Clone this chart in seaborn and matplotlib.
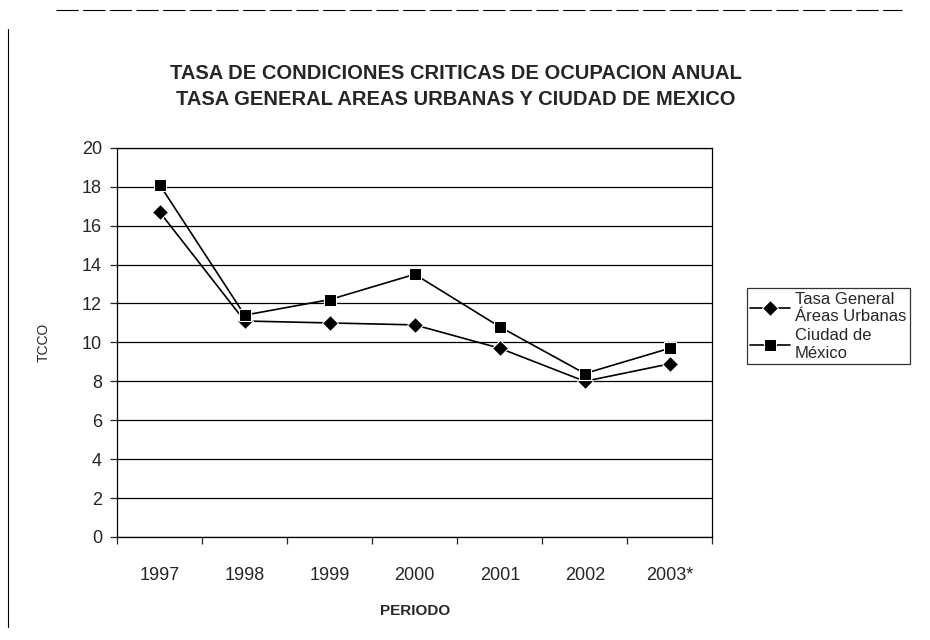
import matplotlib.pyplot as plt
import pandas as pd
import seaborn as sns
import numpy as np

periodos = ['1997', '1998', '1999', '2000', '2001', '2002', '2003*']
tasa_general = [16.7, 11.1, 11.0, 10.9, 9.7, 8.0, 8.9]
ciudad_mexico = [18.1, 11.4, 12.2, 13.5, 10.8, 8.4, 9.7]
serie_general = 'Tasa General\nÁreas Urbanas'
serie_cdmx = 'Ciudad de\nMéxico'
y_ticks = list(range(0, 21, 2))

df = pd.DataFrame({
    'periodo': periodos * 2,
    'tcco': tasa_general + ciudad_mexico,
    'serie': [serie_general] * len(periodos) + [serie_cdmx] * len(periodos),
})

sns.set_style('white')
plt.rcParams['font.family'] = ['Liberation Sans', 'DejaVu Sans']

fig = plt.figure(figsize=(9.3, 6.4), dpi=100)
ax = fig.add_axes([0.126, 0.161, 0.640, 0.608])

sns.lineplot(
    data=df, x='periodo', y='tcco', hue='serie', style='serie',
    palette=['black', 'black'], markers={serie_general: 'D', serie_cdmx: 's'},
    dashes=False, markersize=8.5, linewidth=1.2, ax=ax,
)

ax.set_ylim(0, 20)
ax.set_xlim(-0.5, len(periodos) - 0.5)
ax.set_yticks(y_ticks)
ax.yaxis.grid(True, color='black', linewidth=0.9)
ax.set_axisbelow(True)
for s in ax.spines.values():
    s.set_color('black')
    s.set_linewidth(0.9)

ax.tick_params(axis='y', which='major', length=5, width=0.9, direction='out',
               left=True, labelsize=13, pad=6)
ax.tick_params(axis='x', which='major', length=0, labelsize=13, pad=28)
ax.set_xticks(np.arange(-0.5, len(periodos)), minor=True)
ax.tick_params(axis='x', which='minor', length=5, width=0.9, direction='out', bottom=True)
for lab in ax.get_xticklabels():
    lab.set_va('center')

ax.set_xlabel('PERIODO', fontsize=11, fontweight='bold', labelpad=14)
ax.set_ylabel('TCCO', fontsize=10, labelpad=22)

fig.text(0.49, 0.865, 'TASA DE CONDICIONES CRITICAS DE OCUPACION ANUAL\nTASA GENERAL AREAS URBANAS Y CIUDAD DE MEXICO',
         ha='center', va='center', fontsize=14.5, fontweight='bold', linespacing=1.45)

leg = ax.legend(loc='upper left', bbox_to_anchor=(0.794, 0.5625), bbox_transform=fig.transFigure,
                frameon=True, fancybox=False, fontsize=12, handlelength=2.4,
                borderpad=0.2, labelspacing=0.25, handletextpad=0.3)
leg.get_frame().set_edgecolor('black')
leg.get_frame().set_linewidth(0.9)
for t in leg.get_texts():
    t.set_linespacing(1.2)

# scanned page border
fig.add_artist(plt.Line2D([0.009, 0.009], [0.02, 0.955], color='black', linewidth=0.8))
fig.add_artist(plt.Line2D([0.06, 0.97], [0.985, 0.985], color='black', linewidth=0.8, linestyle=(0, (20, 4))))

fig.savefig('out.png', dpi=100)
